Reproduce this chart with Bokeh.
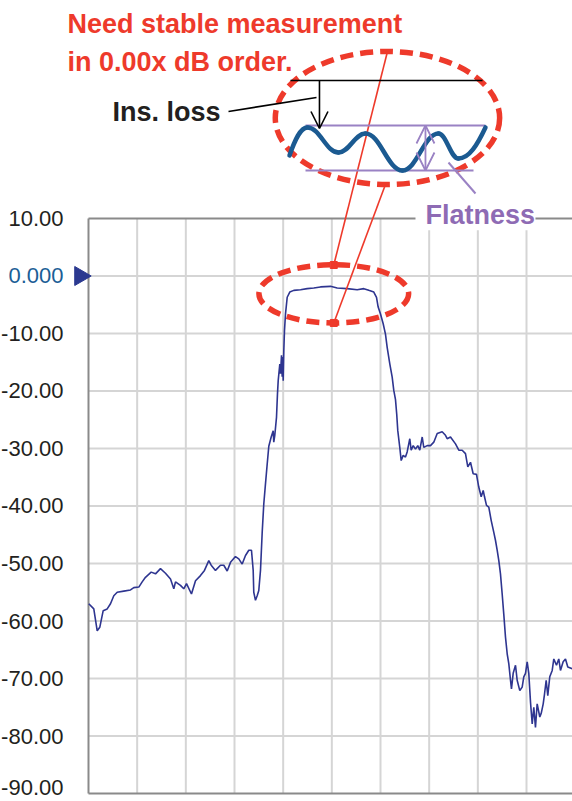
import numpy as np
from bokeh.plotting import figure
from bokeh.models import Range1d, Arrow, OpenHead, Label
from bokeh.core.properties import value
from bokeh.embed import file_html
from bokeh.resources import INLINE

# ---------------- data (x in screen divisions, y in dB) ----------------
freq_div = [0.006, 0.109, 0.179, 0.232, 0.261, 0.302, 0.384, 0.452, 0.520, 0.590,
            0.725, 0.863, 0.931, 1.034, 1.103, 1.171, 1.288, 1.377, 1.479, 1.582,
            1.685, 1.753, 1.788, 1.890, 1.958, 2.014, 2.116, 2.199, 2.301, 2.383,
            2.472, 2.521, 2.609, 2.712, 2.780, 2.850, 2.918, 3.020, 3.088, 3.158,
            3.226, 3.294, 3.349, 3.384, 3.396, 3.431, 3.466, 3.499, 3.534, 3.569,
            3.602, 3.637, 3.672, 3.705, 3.754, 3.795, 3.807, 3.828, 3.863, 3.883,
            3.898, 3.931, 3.945, 3.966, 3.980, 3.992, 4.001, 4.013, 4.027, 4.048,
            4.083, 4.136, 4.218, 4.356, 4.494, 4.629, 4.767, 4.972, 5.110, 5.315,
            5.521, 5.657, 5.759, 5.862, 5.918, 5.952, 6.000, 6.055, 6.102, 6.137,
            6.191, 6.240, 6.273, 6.308, 6.333, 6.355, 6.396, 6.425, 6.466, 6.513,
            6.548, 6.602, 6.630, 6.672, 6.719, 6.766, 6.807, 6.857, 6.889, 6.959,
            7.027, 7.095, 7.165, 7.267, 7.335, 7.370, 7.438, 7.541, 7.609, 7.678,
            7.746, 7.794, 7.849, 7.904, 7.972, 8.019, 8.069, 8.110, 8.137, 8.178,
            8.225, 8.274, 8.328, 8.363, 8.398, 8.431, 8.465, 8.500, 8.533, 8.568,
            8.603, 8.636, 8.671, 8.691, 8.726, 8.774, 8.808, 8.862, 8.911, 8.944,
            8.979, 9.014, 9.047, 9.082, 9.117, 9.150, 9.184, 9.219, 9.273, 9.301,
            9.343, 9.370, 9.404, 9.437, 9.478, 9.528, 9.561, 9.616, 9.663, 9.698,
            9.753, 9.801, 9.848, 9.945]
s21_db = [-57.0, -57.9, -61.7, -61.1, -59.9, -58.2, -57.9, -57.0, -55.6, -55.0,
          -54.8, -54.6, -54.2, -54.1, -53.2, -52.4, -51.5, -51.8, -50.9, -51.7,
          -52.7, -54.4, -53.2, -53.8, -54.4, -53.5, -55.3, -53.0, -52.1, -51.2,
          -49.5, -50.3, -51.2, -50.3, -50.3, -51.3, -49.8, -48.8, -49.2, -50.1,
          -48.6, -47.7, -47.7, -51.2, -55.0, -56.4, -55.6, -54.7, -51.2, -44.6,
          -39.6, -36.1, -32.7, -29.6, -28.0, -26.9, -28.9, -27.7, -24.6, -20.5,
          -18.2, -15.3, -17.0, -13.8, -17.5, -14.1, -18.2, -13.0, -9.5, -6.6,
          -3.7, -2.8, -2.5, -2.4, -2.2, -2.1, -1.9, -1.8, -2.1, -2.2,
          -2.4, -2.2, -2.5, -2.8, -3.7, -5.4, -6.6, -8.3, -10.1, -12.4,
          -15.3, -17.6, -19.9, -21.5, -24.0, -26.9, -29.8, -32.1, -31.2, -31.5,
          -30.6, -28.3, -30.3, -29.5, -30.1, -29.5, -30.3, -28.0, -29.8, -29.5,
          -29.5, -28.9, -27.4, -27.1, -27.7, -28.3, -28.0, -29.2, -30.3, -30.3,
          -30.9, -33.2, -32.4, -34.4, -34.5, -36.7, -38.4, -37.3, -38.4, -39.9,
          -40.2, -42.5, -44.6, -46.0, -47.7, -49.5, -51.8, -55.3, -58.8, -62.8,
          -65.7, -67.4, -70.3, -71.8, -69.1, -67.7, -70.3, -72.1, -71.5, -69.7,
          -69.1, -67.1, -69.1, -74.1, -77.9, -75.0, -78.5, -74.4, -76.7, -76.1,
          -74.4, -72.7, -70.3, -73.0, -69.7, -68.6, -66.6, -67.7, -66.6, -68.6,
          -67.1, -66.6, -68.0, -68.3]

y_ticks = [10, 0, -10, -20, -30, -40, -50, -60, -70, -80]
y_tick_labels = ["10.00", "0.000", "-10.00", "-20.00", "-30.00", "-40.00",
                 "-50.00", "-60.00", "-70.00", "-80.00"]
y_tick_colors = ["#231f20", "#1b5e96"] + ["#231f20"] * 8
y_bottom_label = ["-90.00"]
x_grid = [1, 2, 3, 4, 5, 6, 7, 8, 9]
y_grid = [0, -10, -20, -30, -40, -50, -60, -70, -80]
ref_marker_y = [0]

# schematic inset (insertion loss / flatness sketch), same axis units
wave_x = [4.130, 4.500, 5.137, 5.691, 6.451, 7.191, 7.602, 8.157]
wave_y = [20.96, 25.83, 21.48, 24.78, 18.35, 24.78, 20.43, 25.83]

# ---------------- layout constants ----------------
X0, X1 = -1.808, 9.945
Y0, Y1 = -91.39, 47.91
FONT = "Liberation Sans"
RED = "#ee3a2b"
PURPLE = "#9a82c4"
PURPLE_TXT = "#8e6bb4"
WAVE = "#1b5a91"
TRACE = "#2e3590"

p = figure(width=572, height=801, x_range=Range1d(X0, X1), y_range=Range1d(Y0, Y1),
           output_backend="svg", toolbar_location=None, min_border=0,
           x_axis_location=None, y_axis_location=None)
p.outline_line_color = None
p.grid.grid_line_color = None
p.grid.visible = False
p.background_fill_color = "white"
p.border_fill_color = "white"

# grid
p.segment(x0=x_grid, y0=[-90] * len(x_grid), x1=x_grid, y1=[10] * len(x_grid),
          line_color="#d5d5d5", line_width=2)
p.segment(x0=[0] * len(y_grid), y0=y_grid, x1=[X1] * len(y_grid), y1=y_grid,
          line_color="#d5d5d5", line_width=2)
# frame (top edge interrupted by the "Flatness" label)
p.segment(x0=[0, 0, 9.184, 0], y0=[-90, 10, 10, -90], x1=[0, 6.719, X1, X1], y1=[10, 10, 10, -90],
          line_color="#8a8a8a", line_width=2)

# y tick labels
p.text(x=[-0.514] * len(y_ticks), y=y_ticks, text=y_tick_labels,
       text_color=y_tick_colors, text_font=value(FONT), text_font_size="22px",
       text_align="right", text_baseline="middle")
p.text(x=[-0.514], y=[-88.9], text=y_bottom_label, text_color="#231f20",
       text_font=value(FONT), text_font_size="22px",
       text_align="right", text_baseline="middle")
# reference level marker
p.scatter(x=[-0.17], y=ref_marker_y, marker="triangle", angle=-np.pi / 2, size=19,
          fill_color="#2b3990", line_color="#2b3990")

# measured trace
p.line(freq_div, s21_db, line_color=TRACE, line_width=1.6)

# ---------------- annotations ----------------
# red headline
p.text(x=[-0.431, -0.431], y=[43.74, 37.13],
       text=["Need stable measurement", "in 0.00x dB order."],
       text_color=RED, text_font=value(FONT), text_font_size="27px",
       text_font_style="bold", text_align="left", text_baseline="alphabetic")

# dashed ellipses
p.ellipse(x=[6.143, 5.040], y=[27.48, -3.10], width=[4.61, 3.076], height=[23.13, 10.14],
          fill_color=None, line_color=RED, line_width=5.5, line_dash="13 7")
# connecting thin red lines
p.segment(x0=[6.143, 6.102], y0=[39.04, 15.91], x1=[5.040, 5.040], y1=[1.91, -8.17],
          line_color=RED, line_width=1.6)
p.scatter(x=[5.040, 5.040], y=[1.91, -8.17], marker="square", size=7,
          fill_color=RED, line_color=RED)

# purple flatness lines
p.segment(x0=[4.459, 4.459, 7.397], y0=[26.17, 18.35, 19.74],
          x1=[8.157, 7.911, 7.952], y1=[26.17, 18.35, 14.35],
          line_color=PURPLE, line_width=2)
p.add_layout(Arrow(start=OpenHead(size=18, line_color=PURPLE, line_width=1.8),
                   end=OpenHead(size=18, line_color=PURPLE, line_width=1.8),
                   x_start=6.924, y_start=18.35, x_end=6.924, y_end=26.17,
                   line_color=PURPLE, line_width=1.8))

# wave sketch (cubic bezier through read extrema)
wx = np.array(wave_x)
wy = np.array(wave_y)
dx = np.diff(wx)
dy = np.diff(wy)
cx0 = wx[:-1] + 0.4 * dx
cy0 = wy[:-1].copy()
cx1 = wx[1:] - 0.4 * dx
cy1 = wy[1:].copy()
cx0[0] = wx[0] + 0.3 * dx[0]
cy0[0] = wy[0] + 0.55 * dy[0]
cx1[-1] = wx[-1] - 0.3 * dx[-1]
cy1[-1] = wy[-1] - 0.55 * dy[-1]
p.bezier(x0=wx[:-1], y0=wy[:-1], x1=wx[1:], y1=wy[1:], cx0=cx0, cy0=cy0, cx1=cx1, cy1=cy1,
         line_color=WAVE, line_width=4.5, line_cap="round")

# insertion loss reference line, arrow and label
p.segment(x0=[4.150], y0=[34.0], x1=[8.096], y1=[34.0], line_color="black", line_width=1.6)
p.add_layout(Arrow(end=OpenHead(size=17, line_color="black", line_width=1.6),
                   x_start=4.746, y_start=34.0, x_end=4.746, y_end=25.65,
                   line_color="black", line_width=1.6))
p.segment(x0=[2.877], y0=[28.61], x1=[4.685], y1=[31.04], line_color="black", line_width=1.6)
p.text(x=[0.493], y=[28.44], text=["Ins. loss"], text_color="#231f20",
       text_font=value(FONT), text_font_size="27px", text_font_style="bold",
       text_align="left", text_baseline="alphabetic")

# Flatness label (white box hides the grid tops under it)
p.add_layout(Label(x=6.924, y=10.56, text="Flatness", text_font=FONT, text_font_size="27px",
                   text_font_style="bold", text_color=PURPLE_TXT,
                   background_fill_color="white", text_baseline="alphabetic"))

open("out.html", "w").write(file_html(p, INLINE))
